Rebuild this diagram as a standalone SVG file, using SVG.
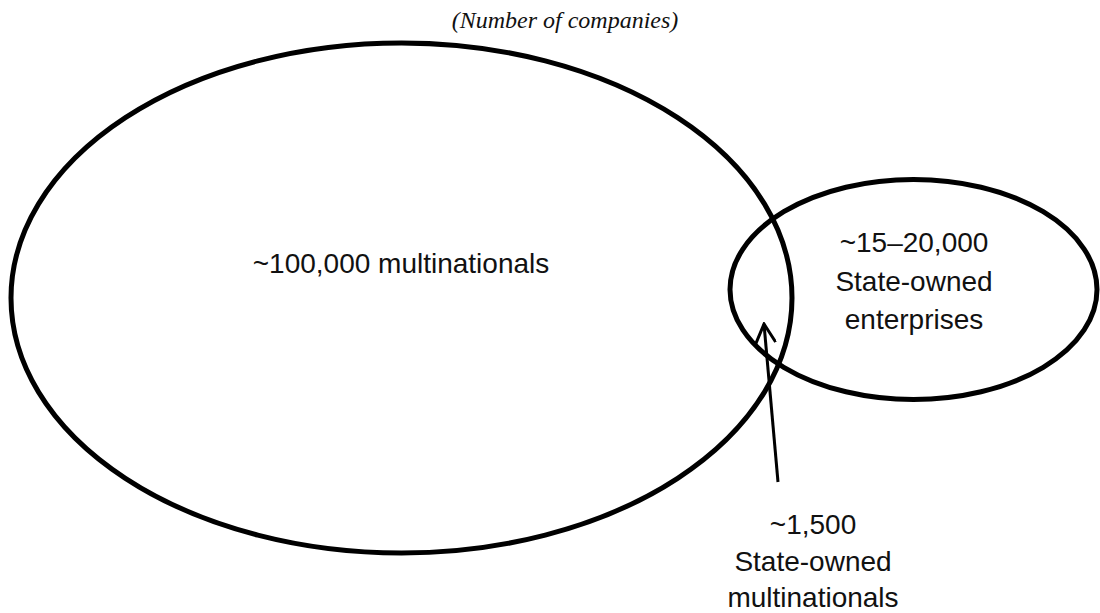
<svg xmlns="http://www.w3.org/2000/svg" width="1100" height="613" viewBox="0 0 1100 613">
<defs>
<style>
.shape{fill:none;stroke:#000;stroke-width:5}
.lbl{font-family:"Liberation Sans",Arial,sans-serif;font-size:28px;fill:#111;text-anchor:middle}
.title{font-family:"Liberation Serif","Times New Roman",serif;font-style:italic;font-size:24px;fill:#111;text-anchor:middle}
.conn{fill:none;stroke:#000;stroke-width:3}
</style>
<marker id="arrow" viewBox="0 0 22 22" refX="20" refY="11" markerWidth="22" markerHeight="22" markerUnits="userSpaceOnUse" orient="auto">
<path d="M1,1 L20,11 L1,21" fill="none" stroke="#000" stroke-width="3"/>
</marker>
</defs>
<rect width="1100" height="613" fill="#fff"/>
<text class="title" x="565" y="28">(Number of companies)</text>
<g id="multinationals">
<ellipse class="shape" cx="401.5" cy="298" rx="390.5" ry="255"/>
<text class="lbl" x="401" y="273">~100,000 multinationals</text>
</g>
<g id="soes">
<ellipse class="shape" cx="913.5" cy="289.5" rx="183.5" ry="110"/>
<text class="lbl" x="914" y="252">~15–20,000</text>
<text class="lbl" x="914" y="291">State-owned</text>
<text class="lbl" x="914" y="329">enterprises</text>
</g>
<g id="state-owned-multinationals">
<text class="lbl" x="813" y="534">~1,500</text>
<text class="lbl" x="813" y="571">State-owned</text>
<text class="lbl" x="813" y="607">multinationals</text>
</g>
<g id="connectors">
<line class="conn" x1="778" y1="482" x2="764" y2="324" marker-end="url(#arrow)"/>
</g>
</svg>
